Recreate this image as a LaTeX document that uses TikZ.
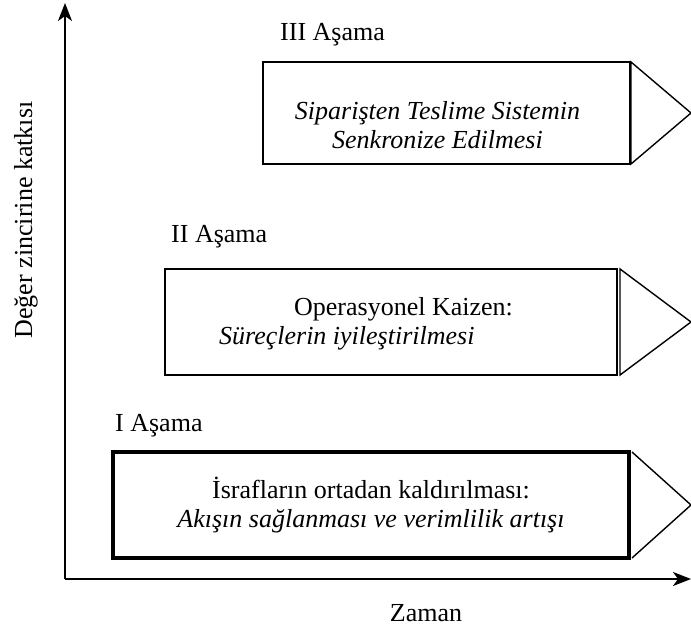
\documentclass[tikz,border=0pt]{standalone}
\usepackage{fontspec}
\setmainfont{Liberation Serif}
\usetikzlibrary{arrows.meta}
\begin{document}
\begin{tikzpicture}[x=1pt, y=1pt, font=\fontsize{26}{29}\selectfont,
                stage/.style={draw, line width=2pt, inner sep=0pt, outer sep=0pt, align=center},
                stagetext/.style={inner sep=0pt},
                phase/.style={inner sep=0pt, anchor=base west},
                tipline/.style={draw, line width=1.4pt},
                axis/.style={line width=2pt, -{Stealth[length=18pt, width=14pt, inset=5pt]}}]
                \useasboundingbox (0,0) rectangle (691,630);
                \coordinate (O) at (65,51);
                \coordinate (Y) at (65,627);
                \coordinate (X) at (691,51);
                \draw[axis] (O) -- (Y);
                \draw[axis] (O) -- (X);
                \node[rotate=90] (ylab) at (26,410) {Değer zincirine katkısı};
                \node[anchor=base] (xlab) at (426,9) {Zaman};

                % I
                \node[stage, line width=4pt, minimum width=516pt, minimum height=106pt] (s1) at (371,125) {İsrafların ortadan kaldırılması:\\\textit{Akışın sağlanması ve verimlilik artışı}};
                \draw[tipline] ([xshift=3pt]s1.north east) -- (s1.east -| X) -- ([xshift=3pt]s1.south east);
                \node[phase] (l1) at ([xshift=2pt, yshift=20pt]s1.north west) {I Aşama};

                % II
                \node[stage, minimum width=452pt, minimum height=106pt] (s2) at (391,308) {};
                \draw[tipline] ([xshift=3pt]s2.north east) -- (s2.east -| X) -- ([xshift=3pt]s2.south east) -- cycle;
                \node[stagetext, align=left] (t2) at ([xshift=-25pt, yshift=-2pt]s2.center) {\hspace*{75pt}Operasyonel Kaizen:\\\textit{Süreçlerin iyileştirilmesi}};
                \node[phase] (l2) at ([xshift=6pt, yshift=26pt]s2.north west) {II Aşama};

                % III
                \node[stage, line width=2.2pt, minimum width=367pt, minimum height=102pt] (s3) at (446.5,517) {};
                \draw[tipline] ([xshift=1pt]s3.north east) -- (s3.east -| X) -- ([xshift=1pt]s3.south east) -- cycle;
                \node[stagetext, align=center] (t3) at ([xshift=-9pt, yshift=-12pt]s3.center) {\textit{Siparişten Teslime Sistemin}\\\textit{Senkronize Edilmesi}};
                \node[phase] (l3) at ([xshift=17pt, yshift=21pt]s3.north west) {III Aşama};
            \end{tikzpicture}
\end{document}
